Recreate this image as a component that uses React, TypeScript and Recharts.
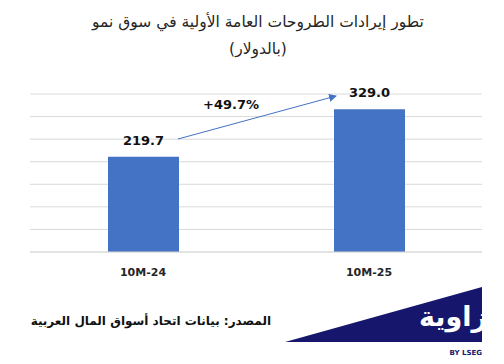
import React from 'react';
import { BarChart, Bar, XAxis, YAxis, CartesianGrid, LabelList } from 'recharts';

const periods = ['10M-24', '10M-25'];
const ipoProceeds = [219.7, 329.0];
const gridTicks = [0, 52, 104, 156, 208, 260, 312, 364];
const growthLabel = '+49.7%';

const titleLines = ['تطور إيرادات الطروحات العامة الأولية في سوق نمو', '(بالدولار)'];
const sourceText = 'المصدر: بيانات اتحاد أسواق المال العربية';

const data = periods.map((p, i) => ({ period: p, value: ipoProceeds[i] }));

const numFont = '"DejaVu Sans", Verdana, sans-serif';
const arFont = '"DejaVu Sans", "Noto Sans", sans-serif';

export default function App() {
  return (
    <div style={{ position: 'relative', width: 504, height: 364, background: '#fff', overflow: 'hidden' }}>
      <style>{`body{margin:0}`}</style>

      {/* title */}
      <div
        dir="rtl"
        style={{
          position: 'absolute', top: 9, left: 0, width: 516, textAlign: 'center',
          fontFamily: arFont, fontSize: 15.5, lineHeight: '27px', color: '#262626',
        }}
      >
        {titleLines.map((t) => (
          <div key={t}>{t}</div>
        ))}
      </div>

      <div style={{ position: 'absolute', top: 0, left: 0 }}>
        <BarChart
          width={504}
          height={290}
          data={data}
          margin={{ top: 94, right: 22, left: 30, bottom: 8 }}
        >
          <CartesianGrid vertical={false} stroke="#d9d9d9" />
          <YAxis hide domain={[0, 364]} ticks={gridTicks} interval={0} />
          <XAxis
            dataKey="period"
            axisLine={{ stroke: '#d9d9d9' }}
            tickLine={false}
            tickMargin={10}
            height={30}
            tick={{ fontFamily: numFont, fontSize: 11, fontWeight: 700, fill: '#262626' }}
          />
          <Bar dataKey="value" fill="#4472c4" barSize={71} isAnimationActive={false}>
            <LabelList
              dataKey="value"
              position="top"
              offset={12}
              formatter={(v: number) => v.toFixed(1)}
              style={{ fontFamily: numFont, fontSize: 13, fontWeight: 700, fill: '#111' }}
            />
          </Bar>
        </BarChart>
      </div>

      {/* growth arrow + logo */}
      <svg width={504} height={364} style={{ position: 'absolute', top: 0, left: 0, pointerEvents: 'none' }}>
        <defs>
          <marker id="ah" markerWidth="8" markerHeight="8" refX="7" refY="4" orient="auto" markerUnits="userSpaceOnUse">
            <path d="M0,0 L8,4 L0,8 z" fill="#4472c4" />
          </marker>
          <clipPath id="logoClip">
            <rect x={0} y={0} width={482} height={364} />
          </clipPath>
        </defs>
        <line x1={178} y1={139} x2={336} y2={96} stroke="#4472c4" strokeWidth={1} markerEnd="url(#ah)" />
        <text x={231} y={109} textAnchor="middle" fontFamily={numFont} fontSize={13} fontWeight={700} fill="#111">
          {growthLabel}
        </text>

        <polygon points="285,342 482,287 482,342" fill="#16166c" />
        <g clipPath="url(#logoClip)">
          <text x={487} y={326} textAnchor="end" fontFamily={arFont} fontSize={27} fontWeight={700} fill="#fff">
            زاوية
          </text>
        </g>
        <text x={482} y={355} textAnchor="end" fontFamily={numFont} fontSize={7} fontWeight={700} fill="#16166c">
          BY LSEG
        </text>
      </svg>

      {/* source */}
      <div
        dir="rtl"
        style={{
          position: 'absolute', top: 314, left: 0, width: 271, textAlign: 'right',
          fontFamily: arFont, fontSize: 12, fontWeight: 700, color: '#111', whiteSpace: 'nowrap',
        }}
      >
        {sourceText}
      </div>
    </div>
  );
}
